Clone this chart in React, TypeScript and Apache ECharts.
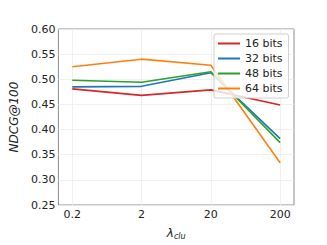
import React, { useEffect, useRef } from "react";
import * as echarts from "echarts";

const categories = ["0.2", "2", "20", "200"];
const seriesNames = ["16 bits", "32 bits", "48 bits", "64 bits"];
const bits16 = [0.481, 0.468, 0.479, 0.449];
const bits32 = [0.485, 0.486, 0.513, 0.382];
const bits48 = [0.498, 0.494, 0.515, 0.374];
const bits64 = [0.525, 0.540, 0.528, 0.334];
const colors = ["#d62728", "#1f77b4", "#2ca02c", "#ff7f0e"];

export default function App() {
  const ref = useRef<HTMLDivElement>(null);
  useEffect(() => {
    const chart = echarts.init(ref.current!, undefined, { renderer: "svg" });
    const all = [bits16, bits32, bits48, bits64];
    const xPos = categories.map((_, i) => i);
    chart.setOption({
      animation: false,
      textStyle: { fontFamily: "DejaVu Sans" },
      grid: {
        left: 40, top: 29, width: 254, height: 189,
        show: true, borderColor: "#8c8c8c", borderWidth: 1,
      },
      legend: {
        orient: "vertical",
        left: 214, top: 34,
        itemWidth: 22, itemHeight: 2,
        itemGap: 4,
        padding: [4, 6, 4, 4],
        backgroundColor: "rgba(255,255,255,0.8)",
        borderColor: "#d0d0d0", borderWidth: 1, borderRadius: 2,
        textStyle: { fontSize: 11, color: "#222", fontFamily: "DejaVu Sans" },
        data: seriesNames.map((n) => ({ name: n, icon: "rect" })),
      },
      xAxis: {
        type: "value",
        min: -0.2, max: 3.2,
        axisLine: { show: false },
        axisTick: { show: false, customValues: xPos },
        splitLine: { show: true, lineStyle: { color: "#ececec", width: 0.8 } },
        axisLabel: {
          fontSize: 11, color: "#222", margin: 4,
          customValues: xPos,
          formatter: (v: number) => categories[Math.round(v)] ?? "",
        },
        name: "{a|λ}{b|clu}",
        nameLocation: "middle",
        nameGap: 20,
        nameTextStyle: {
          rich: {
            a: { fontSize: 12, color: "#222", fontStyle: "italic", fontFamily: "DejaVu Sans" },
            b: { fontSize: 8, color: "#222", fontStyle: "italic", fontFamily: "DejaVu Sans", padding: [7, 0, 0, 0] },
          },
        },
      },
      yAxis: {
        type: "value",
        min: 0.25, max: 0.6, interval: 0.05,
        axisLine: { show: false },
        axisTick: { show: false },
        splitLine: { show: true, lineStyle: { color: "#ececec", width: 0.8 } },
        axisLabel: {
          fontSize: 11, color: "#222", margin: 3,
          formatter: (v: number) => v.toFixed(2),
        },
        name: "NDCG@100",
        nameLocation: "middle",
        nameGap: 31,
        nameTextStyle: { fontSize: 12, color: "#222", fontStyle: "italic", fontFamily: "DejaVu Sans" },
      },
      series: all.map((d, i) => ({
        name: seriesNames[i],
        type: "line",
        data: d.map((v, j) => [xPos[j], v]),
        showSymbol: false,
        symbol: "none",
        lineStyle: { width: 1.6, color: colors[i] },
        itemStyle: { color: colors[i] },
        z: 2,
      })),
    });
    return () => chart.dispose();
  }, []);
  return <div ref={ref} style={{ width: 327, height: 245, position: "absolute", left: 0, top: 0 }} />;
}
